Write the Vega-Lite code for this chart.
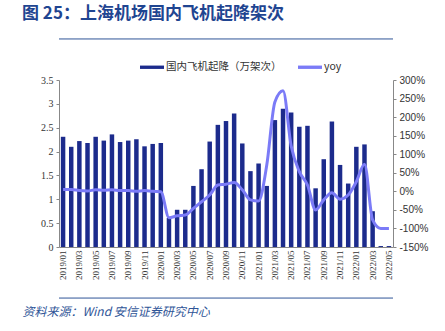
{
  "$schema": "https://vega.github.io/schema/vega-lite/v6.json",
  "autosize": "none",
  "width": 334,
  "height": 167,
  "padding": {"left": 59, "top": 80, "right": 52, "bottom": 84},
  "title": {"text": "图 25：上海机场国内飞机起降架次", "anchor": "start", "frame": "group", "dx": -37, "fontSize": 17, "font": "Noto Sans CJK SC", "fontWeight": "bold", "color": "#1f4591", "offset": 15},
  "config": {"view": {"stroke": null}},
  "data": {"values": [
    {"month": "2019/01", "flights": 2.31, "yoy": 5},
    {"month": "2019/02", "flights": 2.10, "yoy": 5},
    {"month": "2019/03", "flights": 2.22, "yoy": 2},
    {"month": "2019/04", "flights": 2.18, "yoy": 1},
    {"month": "2019/05", "flights": 2.31, "yoy": 4},
    {"month": "2019/06", "flights": 2.23, "yoy": 3},
    {"month": "2019/07", "flights": 2.36, "yoy": 4},
    {"month": "2019/08", "flights": 2.20, "yoy": 2},
    {"month": "2019/09", "flights": 2.23, "yoy": 2},
    {"month": "2019/10", "flights": 2.26, "yoy": 0},
    {"month": "2019/11", "flights": 2.11, "yoy": 2},
    {"month": "2019/12", "flights": 2.16, "yoy": 0},
    {"month": "2020/01", "flights": 2.18, "yoy": -1},
    {"month": "2020/02", "flights": 0.61, "yoy": -71},
    {"month": "2020/03", "flights": 0.78, "yoy": -66},
    {"month": "2020/04", "flights": 0.78, "yoy": -64},
    {"month": "2020/05", "flights": 1.28, "yoy": -46},
    {"month": "2020/06", "flights": 1.63, "yoy": -28},
    {"month": "2020/07", "flights": 2.21, "yoy": -10},
    {"month": "2020/08", "flights": 2.56, "yoy": 17},
    {"month": "2020/09", "flights": 2.64, "yoy": 19},
    {"month": "2020/10", "flights": 2.80, "yoy": 24},
    {"month": "2020/11", "flights": 2.17, "yoy": 4},
    {"month": "2020/12", "flights": 1.59, "yoy": -23},
    {"month": "2021/01", "flights": 1.75, "yoy": -26},
    {"month": "2021/02", "flights": 1.28, "yoy": 70},
    {"month": "2021/03", "flights": 2.66, "yoy": 241},
    {"month": "2021/04", "flights": 2.90, "yoy": 271},
    {"month": "2021/05", "flights": 2.82, "yoy": 122},
    {"month": "2021/06", "flights": 2.52, "yoy": 53},
    {"month": "2021/07", "flights": 2.54, "yoy": 17},
    {"month": "2021/08", "flights": 1.23, "yoy": -50},
    {"month": "2021/09", "flights": 1.84, "yoy": -23},
    {"month": "2021/10", "flights": 2.63, "yoy": -4},
    {"month": "2021/11", "flights": 1.72, "yoy": -21},
    {"month": "2021/12", "flights": 1.33, "yoy": -10},
    {"month": "2022/01", "flights": 2.10, "yoy": 26},
    {"month": "2022/02", "flights": 2.15, "yoy": 73},
    {"month": "2022/03", "flights": 0.75, "yoy": -77},
    {"month": "2022/04", "flights": 0.02, "yoy": -100},
    {"month": "2022/05", "flights": 0.02, "yoy": -100}
  ]},
  "layer": [
    {
      "layer": [
        {
          "mark": {"type": "bar"},
          "encoding": {
            "x": {
              "field": "month", "type": "ordinal",
              "scale": {"paddingInner": 0.45, "paddingOuter": 0.225},
              "axis": {
                "title": "资料来源：Wind 安信证券研究中心",
                "titleX": -37,
                "titleY": 64,
                "titleAnchor": "start",
                "titleAlign": "left",
                "titleBaseline": "middle",
                "titleFont": "Noto Sans CJK SC",
                "titleFontStyle": "italic",
                "titleFontWeight": "normal",
                "titleFontSize": 12,
                "titleColor": "#2f5597",
                "values": ["2019/01","2019/03","2019/05","2019/07","2019/09","2019/11","2020/01","2020/03","2020/05","2020/07","2020/09","2020/11","2021/01","2021/03","2021/05","2021/07","2021/09","2021/11","2022/01","2022/03","2022/05"],
                "labelAngle": -90,
                "labelFont": "Liberation Serif",
                "labelFontSize": 9,
                "labelColor": "#333333",
                "labelPadding": 3,
                "ticks": false,
                "domainColor": "#888888"
              }
            },
            "y": {
              "field": "flights", "type": "quantitative",
              "scale": {"domain": [0, 3.5]},
              "axis": {
                "title": null,
                "values": [0, 0.5, 1, 1.5, 2, 2.5, 3, 3.5],
                "format": ".1~f",
                "grid": false,
                "labelFont": "Liberation Serif",
                "labelFontSize": 10,
                "labelColor": "#333333",
                "tickSize": 3,
                "tickColor": "#888888",
                "labelPadding": 3,
                "domainColor": "#888888"
              }
            },
            "color": {
              "datum": "国内飞机起降（万架次）",
              "scale": {"domain": ["国内飞机起降（万架次）", "yoy"], "range": ["#1c2b8c", "#7b7bf7"]},
              "legend": {
                "title": null,
                "orient": "none",
                "legendX": 81,
                "legendY": -25,
                "direction": "horizontal",
                "symbolType": "M-1,-0.14H1V0.14H-1Z",
                "symbolSize": 576,
                "labelFont": "Noto Sans CJK SC",
                "labelFontSize": 10.5,
                "labelColor": "#333333",
                "labelOffset": 2,
                "columnPadding": 16,
                "padding": 0,
                "encode": {"symbols": {"update": {"fill": {"field": "value", "scale": "color"}, "stroke": {"value": "transparent"}, "strokeWidth": {"value": 0}, "opacity": {"value": 1}}}}
              }
            }
          }
        },
        {
          "data": {"values": [{}]},
          "mark": {"type": "rule", "color": "#2f5597", "strokeWidth": 1},
          "encoding": {"y": {"datum": 4.36, "type": "quantitative", "axis": {
                "title": null,
                "values": [0, 0.5, 1, 1.5, 2, 2.5, 3, 3.5],
                "format": ".1~f",
                "grid": false,
                "labelFont": "Liberation Serif",
                "labelFontSize": 10,
                "labelColor": "#333333",
                "tickSize": 3,
                "tickColor": "#888888",
                "labelPadding": 3,
                "domainColor": "#888888"
              }}}
        },
        {
          "data": {"values": [{}]},
          "mark": {"type": "rule", "color": "#2f5597", "strokeWidth": 1},
          "encoding": {"y": {"datum": -1.07, "type": "quantitative", "axis": {
                "title": null,
                "values": [0, 0.5, 1, 1.5, 2, 2.5, 3, 3.5],
                "format": ".1~f",
                "grid": false,
                "labelFont": "Liberation Serif",
                "labelFontSize": 10,
                "labelColor": "#333333",
                "tickSize": 3,
                "tickColor": "#888888",
                "labelPadding": 3,
                "domainColor": "#888888"
              }}}
        }
      ]
    },
    {
      "mark": {"type": "line", "interpolate": "monotone", "strokeWidth": 3},
      "encoding": {
        "x": {"field": "month", "type": "ordinal"},
        "y": {
          "field": "yoy", "type": "quantitative",
          "scale": {"domain": [-150, 300]},
          "axis": {
            "orient": "right",
            "values": [-150, -100, -50, 0, 50, 100, 150, 200, 250, 300],
            "labelExpr": "datum.value + '%'",
            "grid": false,
            "title": null,
            "labelFont": "Liberation Sans",
            "labelFontSize": 10,
            "labelColor": "#333333",
            "tickSize": 3,
            "tickColor": "#888888",
            "labelPadding": 3,
            "domainColor": "#888888"
          }
        },
        "color": {"datum": "yoy"}
      }
    }
  ],
  "resolve": {"scale": {"y": "independent"}}
}
